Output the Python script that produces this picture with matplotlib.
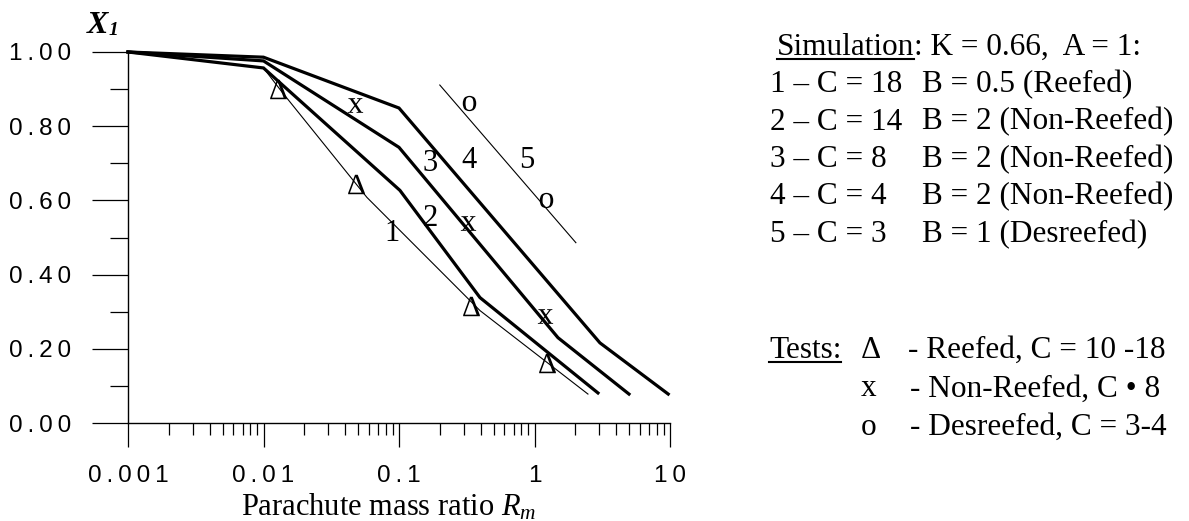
import matplotlib
matplotlib.use("Agg")
import matplotlib.pyplot as plt
from matplotlib.lines import Line2D
from matplotlib.ticker import LogLocator, NullFormatter

SERIF = ["Liberation Serif", "DejaVu Serif"]
SANS = ["Liberation Sans", "DejaVu Sans"]

plt.rcParams["mathtext.fontset"] = "custom"
plt.rcParams["mathtext.rm"] = "Liberation Serif"
plt.rcParams["mathtext.it"] = "Liberation Serif:italic"
plt.rcParams["mathtext.bf"] = "Liberation Serif:bold"

# simulation curves: parachute mass ratio Rm vs X1
rm_1 = [0.001, 0.01, 0.0137, 0.058, 0.396, 2.48]
x1_1 = [1.0, 0.957, 0.892, 0.608, 0.303, 0.078]
rm_2 = [0.001, 0.01, 0.1016, 0.396, 2.94]
x1_2 = [1.0, 0.957, 0.627, 0.338, 0.081]
rm_3 = [0.001, 0.01, 0.1, 1.49, 4.98]
x1_3 = [1.0, 0.976, 0.743, 0.23, 0.078]
rm_4 = [0.001, 0.01, 0.1, 3.04, 9.7]
x1_4 = [1.0, 0.986, 0.849, 0.216, 0.078]
rm_5 = [0.2, 2.02]
x1_5 = [0.911, 0.486]

# test points
reefed_rm = [0.0128, 0.048, 0.34, 1.24]
reefed_x1 = [0.90, 0.643, 0.316, 0.162]
nonreefed_rm = [0.047, 0.323, 1.19]
nonreefed_x1 = [0.857, 0.538, 0.289]
desreefed_rm = [0.329, 1.22]
desreefed_x1 = [0.862, 0.60]

# curve number labels
curve_names = ["1", "2", "3", "4", "5"]
label_rm = [0.0887, 0.169, 0.169, 0.33, 0.88]
label_x1 = [0.511, 0.551, 0.70, 0.708, 0.708]

x_ticks = [0.001, 0.01, 0.1, 1, 10]
x_ticklabels = ["0.001", "0.01", "0.1", "1", "10"]
y_ticks = [0.0, 0.2, 0.4, 0.6, 0.8, 1.0]
y_ticklabels = ["0.00", "0.20", "0.40", "0.60", "0.80", "1.00"]
y_minor = [0.1, 0.3, 0.5, 0.7, 0.9]

sim_left = ["1 \u2013 C = 18", "2 \u2013 C = 14", "3 \u2013 C = 8", "4 \u2013 C = 4", "5 \u2013 C = 3"]
sim_right = ["B = 0.5 (Reefed)", "B = 2 (Non-Reefed)", "B = 2 (Non-Reefed)",
             "B = 2 (Non-Reefed)", "B = 1 (Desreefed)"]
test_marks = ["\u0394", "x", "o"]
test_texts = ["- Reefed, C = 10 -18", "- Non-Reefed, C \u2022 8", "- Desreefed, C = 3-4"]

W, H = 1189, 521


def px(x, y):
    return x / W, 1 - y / H


def spaced(s):
    return "\u2009".join(s)


fig = plt.figure(figsize=(W / 100, H / 100), dpi=100)
ax = fig.add_axes([128 / W, (H - 423) / H, 542 / W, 371 / H])

ax.plot(rm_1, x1_1, color="black", lw=0.8, clip_on=False)
ax.plot(rm_5, x1_5, color="black", lw=0.8, clip_on=False)
for rm, x1 in [(rm_2, x1_2), (rm_3, x1_3), (rm_4, x1_4)]:
    ax.plot(rm, x1, color="black", lw=2.3, clip_on=False, solid_joinstyle="miter")

ax.plot(reefed_rm, reefed_x1, ls="none", marker="$\u0394$", ms=14, mew=0,
        color="black", clip_on=False)
ax.plot(nonreefed_rm, nonreefed_x1, ls="none", marker=r"$\mathrm{x}$", ms=11,
        mew=0, color="black", clip_on=False)
ax.plot(desreefed_rm, desreefed_x1, ls="none", marker=r"$\mathrm{o}$", ms=11,
        mew=0, color="black", clip_on=False)

for name, r, v in zip(curve_names, label_rm, label_x1):
    ax.text(r, v, name, family=SERIF, fontsize=22, ha="center", va="center")

ax.set_xscale("log")
ax.set_xlim(0.001, 10)
ax.set_ylim(0, 1)

for side in ["top", "right"]:
    ax.spines[side].set_visible(False)
for side in ["left", "bottom"]:
    ax.spines[side].set_linewidth(1.0)

ax.set_xticks(x_ticks, [spaced(s) for s in x_ticklabels], family=SANS, fontsize=17.5)
ax.xaxis.set_minor_locator(LogLocator(base=10, subs=range(2, 10)))
ax.xaxis.set_minor_formatter(NullFormatter())
ax.set_yticks(y_ticks, [spaced(s) for s in y_ticklabels], family=SANS, fontsize=17.5)
ax.set_yticks(y_minor, minor=True)

ax.tick_params(axis="x", which="major", direction="out", length=17, width=0.9, pad=13)
ax.tick_params(axis="x", which="minor", direction="out", length=8.6, width=0.9)
ax.tick_params(axis="y", which="major", direction="out", length=26, width=0.9, pad=15)
ax.tick_params(axis="y", which="minor", direction="out", length=13, width=0.9)

ax.set_xlabel("Parachute mass ratio $R_m$", family=SERIF, fontsize=22, labelpad=4)
ax.xaxis.label.set_x((389 - 128) / 542)

# y axis title X1 at the top left
fig.text(*px(87, 33), "X", family=SERIF, fontsize=23, weight="bold", style="italic",
         ha="left", va="baseline")
fig.text(*px(109, 35), "1", family=SERIF, fontsize=14, weight="bold", style="italic",
         ha="left", va="baseline")

# right hand notes
fs = 22.5
renderer = fig.canvas.get_renderer()


def underline(t, y):
    bb = t.get_window_extent(renderer)
    x0, x1 = bb.x0 / W, bb.x1 / W
    fig.add_artist(Line2D([x0, x1], [1 - y / H, 1 - y / H], color="black", lw=1.5))
    return bb


t = fig.text(*px(777, 55), "Simulation", family=SERIF, fontsize=fs, va="baseline")
bb = underline(t, 59)
fig.text(bb.x1 / W, 1 - 55 / H, ": K = 0.66,  A = 1:", family=SERIF, fontsize=fs,
         va="baseline")

for i, (a, b) in enumerate(zip(sim_left, sim_right)):
    yb = 92 + i * 37.5
    fig.text(*px(770, yb), a, family=SERIF, fontsize=fs, va="baseline")
    fig.text(*px(922, yb), b, family=SERIF, fontsize=fs, va="baseline")

t = fig.text(*px(769, 358), "Tests:", family=SERIF, fontsize=fs, va="baseline")
underline(t, 362)
for i, (m, s) in enumerate(zip(test_marks, test_texts)):
    yb = 358 + i * 38.5
    fig.text(*px(861, yb), m, family=SERIF, fontsize=fs, va="baseline")
    fig.text(*px(908 if i == 0 else 910, yb), s, family=SERIF, fontsize=fs, va="baseline")

fig.savefig("out.png", dpi=100)
